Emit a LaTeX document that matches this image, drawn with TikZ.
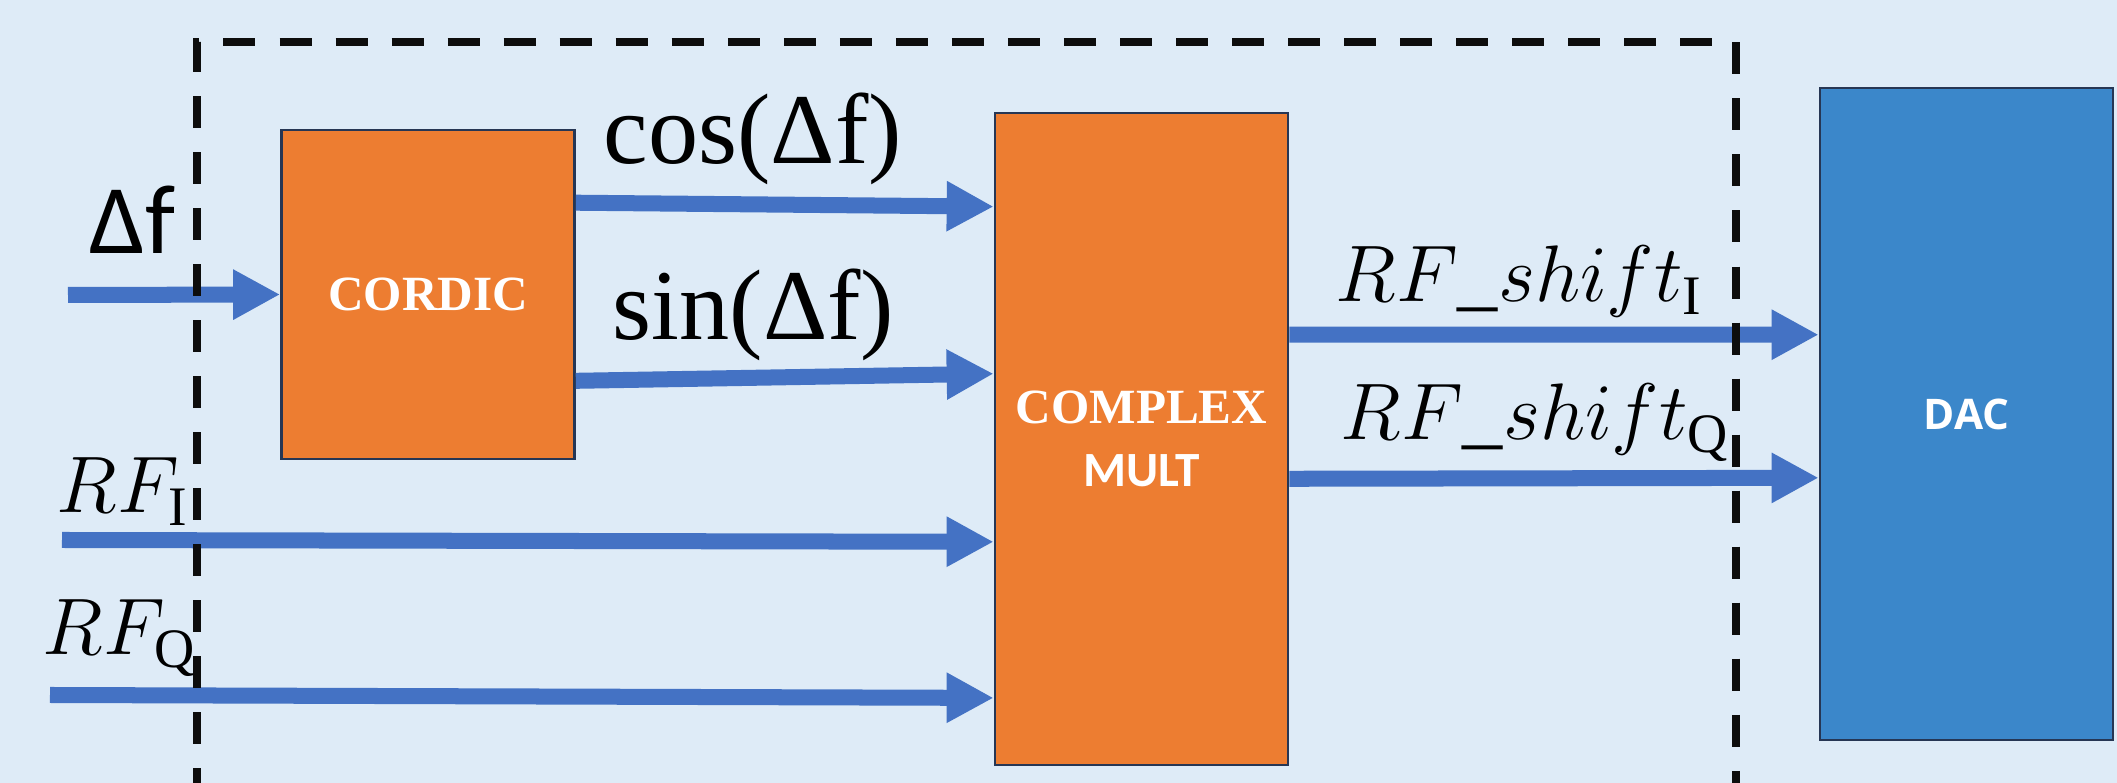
\documentclass[tikz,border=0pt]{standalone}
\usepackage{fontspec}
\setmainfont{Liberation Serif}
\newfontfamily\carlito{Carlito}
\newfontfamily\opensans{Open Sans}
\usetikzlibrary{arrows.meta}
\DeclareMathSizes{20.74}{20.74}{14.4}{12}
\definecolor{bgblue}{RGB}{222,235,247}
\definecolor{boxorange}{RGB}{237,125,49}
\definecolor{dacblue}{RGB}{59,135,202}
\definecolor{wireblue}{RGB}{68,114,196}
\definecolor{rim}{RGB}{38,54,84}
\newcommand{\sig}[1]{\scalebox{1.1}{$#1$}}

\begin{document}
\begin{tikzpicture}[x=0.01cm,y=-0.01cm]
\tikzstyle{block}=[draw=rim,line width=0.7pt,text=white,inner sep=0pt,minimum width=2.93cm]
\tikzstyle{wire}=[wireblue,line width=0.16cm,-{Triangle[length=0.47cm,width=0.47cm]}]
\tikzstyle{fence}=[line width=0.075cm,black!95,dash pattern=on 0.32cm off 0.24cm]
\tikzstyle{lbl}=[anchor=base west,inner sep=0pt,font=\fontsize{20.74}{25}\selectfont]
    \fill[bgblue] (0,0) rectangle (2117,783);
    \useasboundingbox (0,0) rectangle (2117,783);
    % blocks
    \node[block,fill=boxorange,minimum height=3.29cm,font=\fontsize{14}{17}\selectfont\bfseries] (cordic) at (428,294.5) {CORDIC};
    \node[block,fill=boxorange,minimum height=6.52cm,align=center,font=\fontsize{14}{18}\selectfont\bfseries] (cmult) at (1141.5,439) {COMPLEX\\{\carlito MULT}};
    \node[block,fill=dacblue,minimum height=6.52cm,font=\opensans\fontsize{12}{14}\selectfont\bfseries] (dac) at (1966.5,414) {DAC};
    % inputs
    \coordinate (dfin) at (68,295);
    \coordinate (rfiin) at (62,540);
    \coordinate (rfqin) at (50,695);
    \draw[wire] (dfin) -- (cordic.west);
    \draw[wire] ([yshift=-0.74cm]cordic.north east) -- ([yshift=-0.95cm]cmult.north west);
    \draw[wire] ([yshift=-2.52cm]cordic.north east) -- ([yshift=-2.62cm]cmult.north west);
    \draw[wire] (rfiin) -- ([yshift=-4.30cm]cmult.north west);
    \draw[wire] (rfqin) -- ([yshift=-5.86cm]cmult.north west);
    % outputs
    \draw[wire] ([yshift=-2.23cm]cmult.north east) -- ([yshift=-2.48cm]dac.north west);
    \draw[wire] ([yshift=-3.67cm]cmult.north east) -- ([yshift=-3.91cm]dac.north west);
    \draw[fence] (197,800) |- (1736,42) -- (1736,800);
    % labels
    \node[lbl,font=\carlito\fontsize{28}{32}\selectfont] (df) at (89,254) {Δf};
    \node[lbl,font=\fontsize{28.5}{32}\selectfont] (cosl) at (603,164) {cos(Δf)};
    \node[lbl,font=\fontsize{28.5}{32}\selectfont] (sinl) at (612,340) {sin(Δf)};
    \node[lbl] (rfi) at (56,513) {\sig{RF_{\mathrm{I}}}};
    \node[lbl] (rfq) at (42,655) {\sig{RF_{\mathrm{Q}}}};
    \node[lbl] (shi) at (1335,302) {\sig{RF\_shift_{\mathrm{I}}}};
    \node[lbl] (shq) at (1340,440) {\sig{RF\_shift_{\mathrm{Q}}}};
\end{tikzpicture}
\end{document}
